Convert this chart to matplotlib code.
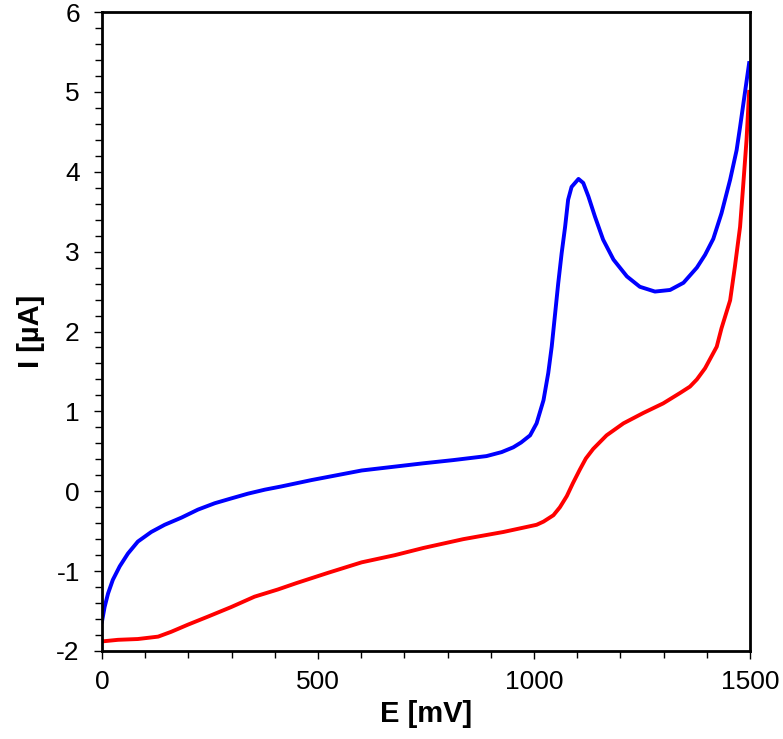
import numpy as np
import matplotlib
matplotlib.use("Agg")
import matplotlib.pyplot as plt
from matplotlib.ticker import MultipleLocator

plt.rcParams['font.family'] = ['Liberation Sans', 'DejaVu Sans']
plt.rcParams['axes.unicode_minus'] = False

# 정방향 스캔 (산화) - 파란색
E_fwd = [0, 6, 14, 25, 41, 60, 83, 114, 145, 184, 222, 261, 299, 338, 377, 415,
         450, 485, 601, 744, 813, 890, 925, 952, 970, 991, 1006, 1022, 1033,
         1041, 1049, 1056, 1064, 1072, 1079, 1087, 1103, 1114, 1126, 1141, 1160,
         1184, 1215, 1245, 1280, 1315, 1346, 1377, 1396, 1415, 1434, 1454, 1469,
         1477, 1488, 1498]
I_fwd = [-1.63, -1.45, -1.28, -1.11, -0.94, -0.78, -0.63, -0.51, -0.42, -0.33,
         -0.23, -0.15, -0.09, -0.03, 0.02, 0.06, 0.10, 0.14, 0.26, 0.35, 0.39,
         0.44, 0.49, 0.55, 0.61, 0.70, 0.85, 1.14, 1.48, 1.81, 2.23, 2.60, 2.98,
         3.31, 3.65, 3.81, 3.91, 3.86, 3.69, 3.44, 3.15, 2.90, 2.69, 2.56, 2.50,
         2.52, 2.61, 2.80, 2.96, 3.16, 3.48, 3.90, 4.27, 4.56, 4.98, 5.36]

# 역방향 스캔 (환원) - 빨간색
E_rev = [1498, 1492, 1484, 1477, 1465, 1454, 1434, 1423, 1396, 1377, 1361, 1338,
         1299, 1253, 1207, 1168, 1137, 1120, 1106, 1090, 1076, 1060, 1045, 1022,
         1006, 929, 836, 744, 678, 601, 524, 450, 407, 353, 299, 245, 199, 160,
         130, 83, 37, 0]
I_rev = [5.00, 4.40, 3.81, 3.31, 2.81, 2.39, 2.04, 1.81, 1.54, 1.40, 1.31, 1.23,
         1.10, 0.98, 0.85, 0.70, 0.53, 0.41, 0.27, 0.10, -0.06, -0.20, -0.30,
         -0.38, -0.42, -0.51, -0.60, -0.71, -0.80, -0.89, -1.02, -1.15, -1.23,
         -1.32, -1.45, -1.57, -1.67, -1.76, -1.82, -1.85, -1.86, -1.88]

fig = plt.figure(figsize=(7.83, 7.39), dpi=100)
ax = fig.add_axes([102/783, 1 - 651/739, 648/783, 639/739])

ax.plot(E_rev, I_rev, color='#ff0000', lw=2.8, solid_joinstyle='round')
ax.plot(E_fwd, I_fwd, color='#0000ff', lw=2.8, solid_joinstyle='round')

ax.set_xlim(0, 1500)
ax.set_ylim(-2, 6)
ax.xaxis.set_major_locator(MultipleLocator(500))
ax.xaxis.set_minor_locator(MultipleLocator(100))
ax.yaxis.set_major_locator(MultipleLocator(1))
ax.yaxis.set_minor_locator(MultipleLocator(0.2))

for s in ax.spines.values():
    s.set_linewidth(2.0)
ax.tick_params(which='both', direction='out', top=False, right=False,
               width=1.0, labelsize=19)
ax.tick_params(which='major', length=6)
ax.tick_params(which='minor', length=5)
ax.tick_params(axis='x', which='major', pad=8)
ax.tick_params(axis='y', which='major', pad=10)

ax.set_xlabel("E [mV]", fontsize=21, fontweight='bold', labelpad=4)
ax.set_ylabel("I [µA]", fontsize=21, fontweight='bold', labelpad=8)

fig.savefig("out.png", dpi=100)
